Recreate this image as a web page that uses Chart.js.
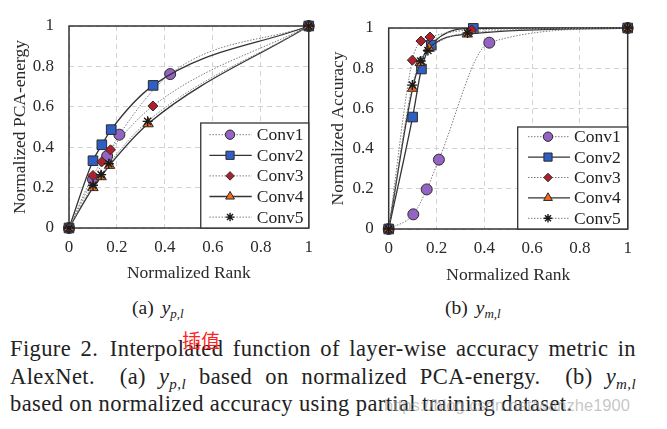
<!DOCTYPE html>
<html>
<head>
<meta charset="utf-8">
<script src="https://cdn.jsdelivr.net/npm/chart.js@4/dist/chart.umd.min.js"></script>
<style>
  html, body { margin: 0; padding: 0; background: #fff; }
  body { width: 667px; height: 429px; position: relative; overflow: hidden; }
  canvas { position: absolute; top: 0; }
  #c1 { left: 0; }
  #c2 { left: 322px; }
  .txt { position: absolute; font-family: "Liberation Serif", serif; color: #222; white-space: nowrap; line-height: 1; }
  .cap { font-size: 19.5px; top: 298px; }
  .cap i { margin-left: 8px; }
  .m sub, .cap sub { font-size: 13px; font-style: italic; vertical-align: -4px; line-height: 0; }
  .fig { font-size: 22.5px; left: 10px; letter-spacing: 0.4px; }
  .fig sub { font-size: 15px; vertical-align: -5px; line-height: 0; }
  .just { width: 626px; text-align: justify; text-align-last: justify; white-space: normal; }
  #red { position: absolute; left: 182px; top: 330px; font-family: "Noto Sans CJK SC", sans-serif; font-size: 19px; color: #ff1f1f; line-height: 1; z-index: 3; }
  #mark { position: absolute; left: 384px; top: 397px; font-family: "Liberation Sans", sans-serif; font-size: 16.5px; color: rgba(160,160,160,0.6); line-height: 1; z-index: 2; }
</style>
</head>
<body>
<canvas id="c1" width="322" height="290"></canvas>
<canvas id="c2" width="345" height="290"></canvas>

<div class="txt cap" style="left:132px">(a)<i>y<sub>p,l</sub></i></div>
<div class="txt cap" style="left:445px">(b)<i>y<sub>m,l</sub></i></div>

<div id="red">插值</div>
<div class="txt fig just" style="top:337.8px">Figure 2.&ensp;Interpolated function of layer-wise accuracy metric in</div>
<div class="txt fig just" style="top:366.2px">AlexNet.&ensp; (a) <i>y<sub>p,l</sub></i> based on normalized PCA-energy.&ensp; (b) <i>y<sub>m,l</sub></i></div>
<div class="txt fig" style="top:392.9px">based on normalized accuracy using partial training dataset.</div>
<div id="mark">https://blog.csdn.net/wanzhe1900</div>

<script>
// series names
const seriesNames = ["Conv1", "Conv2", "Conv3", "Conv4", "Conv5"];

// (a) normalized PCA-energy vs normalized rank, [rank, value]
const pcaConv1 = [[0, 0], [0.10, 0.24], [0.159, 0.356], [0.21, 0.462], [0.422, 0.762], [1, 1]];
const pcaConv2 = [[0, 0], [0.10, 0.333], [0.137, 0.412], [0.176, 0.487], [0.351, 0.706], [1, 1]];
const pcaConv3 = [[0, 0], [0.10, 0.26], [0.137, 0.328], [0.173, 0.387], [0.35, 0.604], [1, 1]];
const pcaConv4 = [[0, 0], [0.10, 0.20], [0.134, 0.254], [0.169, 0.31], [0.33, 0.516], [1, 1]];
const pcaConv5 = [[0, 0], [0.10, 0.212], [0.134, 0.264], [0.166, 0.318], [0.328, 0.528], [1, 1]];

// (b) normalized accuracy vs normalized rank
const accConv1 = [[0, 0], [0.103, 0.073], [0.159, 0.197], [0.21, 0.345], [0.421, 0.927], [1, 1]];
const accConv2 = [[0, 0], [0.10, 0.557], [0.137, 0.796], [0.178, 0.915], [0.354, 0.998], [1, 1]];
const accConv3 = [[0, 0], [0.099, 0.84], [0.135, 0.935], [0.173, 0.955], [0.347, 0.99], [1, 1]];
const accConv4 = [[0, 0], [0.10, 0.70], [0.132, 0.828], [0.169, 0.899], [0.329, 0.97], [1, 1]];
const accConv5 = [[0, 0], [0.099, 0.716], [0.134, 0.836], [0.164, 0.888], [0.33, 0.975], [1, 1]];

const tickValues = [0, 0.2, 0.4, 0.6, 0.8, 1];

// marker / line look per series
const looks = [
  { style: "circle", radius: 5.5, fill: "#9463c4", line: "#7c7c7c", width: 1, dash: [1.5, 1.5] },
  { style: "rect", radius: 6.8, fill: "#2f5fc4", line: "#333", width: 1.3, dash: [] },
  { style: "rectRot", radius: 5, fill: "#b0202a", line: "#7c7c7c", width: 1, dash: [1.5, 1.5] },
  { style: "triangle", radius: 6, fill: "#f26a1b", line: "#333", width: 1.3, dash: [] },
  { style: "star", radius: 5, fill: "#222", line: "#7c7c7c", width: 1, dash: [1.5, 1.5] },
];

Chart.defaults.font.family = "'Liberation Serif', 'Times New Roman', serif";
Chart.defaults.color = "#2a2a2a";

function makeDatasets(series) {
  return series.map((pts, i) => {
    const lk = looks[i];
    return {
      label: seriesNames[i],
      data: pts.map((p) => ({ x: p[0], y: p[1] })),
      borderColor: lk.line,
      borderWidth: lk.width,
      borderDash: lk.dash,
      cubicInterpolationMode: "monotone",
      pointStyle: lk.style,
      pointRadius: lk.radius,
      pointHoverRadius: lk.radius,
      pointBackgroundColor: lk.fill,
      pointBorderColor: lk.style === "star" ? "#1a1a1a" : "#2a2a2a",
      pointBorderWidth: lk.style === "star" ? 1.4 : 1,
      fill: false,
      clip: false,
      order: 5 - i,
    };
  });
}

// frame around the plot area
const framePlugin = {
  id: "frame",
  beforeDatasetsDraw(chart) {
    const a = chart.chartArea;
    const ctx = chart.ctx;
    ctx.save();
    ctx.strokeStyle = "#333";
    ctx.lineWidth = 1.5;
    ctx.strokeRect(a.left, a.top, a.right - a.left, a.bottom - a.top);
    ctx.restore();
  },
};

// boxed legend in the lower right corner of the plot
const boxLegendPlugin = {
  id: "boxLegend",
  afterDraw(chart, args, opts) {
    const a = chart.chartArea;
    const ctx = chart.ctx;
    const x0 = a.right - opts.w;
    const y0 = a.bottom - opts.h;
    ctx.save();
    ctx.fillStyle = "#fff";
    ctx.fillRect(x0, y0, opts.w, opts.h);
    ctx.strokeStyle = "#333";
    ctx.lineWidth = 1.3;
    ctx.strokeRect(x0, y0, opts.w, opts.h);

    chart.data.datasets.forEach((ds, i) => {
      const y = y0 + opts.first + i * opts.row;
      ctx.setLineDash(ds.borderDash);
      ctx.strokeStyle = ds.borderColor;
      ctx.lineWidth = ds.borderWidth;
      ctx.beginPath();
      ctx.moveTo(x0 + opts.lineA, y);
      ctx.lineTo(x0 + opts.lineB, y);
      ctx.stroke();
      ctx.setLineDash([]);

      ctx.fillStyle = ds.pointBackgroundColor;
      ctx.strokeStyle = ds.pointBorderColor;
      ctx.lineWidth = ds.pointBorderWidth;
      const r = ds.pointRadius * 0.85;
      Chart.helpers.drawPoint(ctx, { pointStyle: ds.pointStyle, rotation: 0, radius: r, borderWidth: ds.pointBorderWidth }, x0 + opts.mark, y);

      ctx.fillStyle = "#222";
      ctx.font = "17.5px 'Liberation Serif', serif";
      ctx.textBaseline = "middle";
      ctx.textAlign = "left";
      ctx.fillText(ds.label, x0 + opts.text, y + 1);
    });
    ctx.restore();
  },
};

function buildChart(id, series, yTitle, lay) {
  const canvas = document.getElementById(id);
  return new Chart(canvas.getContext("2d"), {
    type: "line",
    data: { datasets: makeDatasets(series) },
    options: {
      responsive: false,
      animation: false,
      devicePixelRatio: 1,
      layout: { padding: { left: 0, top: lay.top, right: lay.right, bottom: 0 } },
      plugins: {
        legend: { display: false },
        tooltip: { enabled: false },
        boxLegend: lay.legend,
      },
      scales: {
        x: {
          type: "linear",
          min: 0,
          max: 1,
          afterBuildTicks: (s) => { s.ticks = tickValues.map((v) => ({ value: v })); },
          afterFit: (s) => { s.height = lay.xh; },
          ticks: {
            padding: 9,
            font: { size: 17 },
            color: "#2a2a2a",
            callback: (v) => String(+v.toFixed(1)),
          },
          grid: { color: "#d2d2d2", lineWidth: 1, drawTicks: false },
          border: { display: false, dash: [5, 4] },
          title: {
            display: true,
            text: "Normalized Rank",
            font: { size: 17.5 },
            color: "#2a2a2a",
            padding: { top: 0, bottom: lay.xTitlePad },
          },
        },
        y: {
          min: 0,
          max: 1,
          afterBuildTicks: (s) => { s.ticks = tickValues.map((v) => ({ value: v })); },
          afterFit: (s) => { s.width = lay.yw; },
          ticks: {
            padding: 15,
            font: { size: 17 },
            color: "#2a2a2a",
            callback: (v) => String(+v.toFixed(1)),
          },
          grid: { color: "#d2d2d2", lineWidth: 1, drawTicks: false },
          border: { display: false, dash: [5, 4] },
          title: {
            display: true,
            text: yTitle,
            font: { size: 17.5 },
            color: "#2a2a2a",
            padding: { top: lay.yTitlePad, bottom: 0 },
          },
        },
      },
    },
    plugins: [framePlugin, boxLegendPlugin],
  });
}

buildChart("c1", [pcaConv1, pcaConv2, pcaConv3, pcaConv4, pcaConv5], "Normalized PCA-energy", {
  top: 26, right: 10, xh: 62, yw: 69, xTitlePad: 6.5, yTitlePad: 9.5,
  legend: { w: 108, h: 105, first: 11.7, row: 20.6, lineA: 8.7, lineB: 51, mark: 29.3, text: 56 },
});

buildChart("c2", [accConv1, accConv2, accConv3, accConv4, accConv5], "Normalized Accuracy", {
  top: 28, right: 39.3, xh: 61, yw: 66.7, xTitlePad: 4.5, yTitlePad: 5.8,
  legend: { w: 110, h: 102, first: 9.7, row: 20.4, lineA: 10.3, lineB: 52.3, mark: 30.3, text: 56.3 },
});
</script>
</body>
</html>
